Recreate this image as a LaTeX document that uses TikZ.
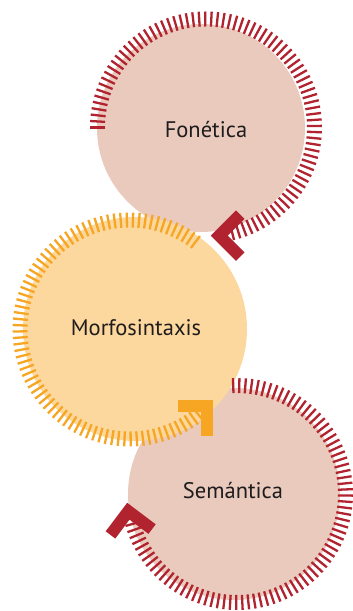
\documentclass[tikz,border=0pt]{standalone}
\usepackage{fontspec}
\setmainfont{PT Sans}
\usepackage{tikz}
\usetikzlibrary{calc}
\definecolor{roseFond}{RGB}{233,202,189}
\definecolor{orangeFond}{RGB}{253,216,158}
\definecolor{rougeTrait}{RGB}{176,35,47}
\definecolor{orangeTrait}{RGB}{246,166,35}
\definecolor{texteGris}{RGB}{30,28,28}
\tikzset{chevron/.pic={\draw[line width=12pt, line join=miter] (-21,21) -- (0,0) -- (-21,-21);}}

\begin{document}
\begin{tikzpicture}[x=1pt, y=1pt,
  etiquette/.style={font=\fontsize{22.5}{27}\selectfont, text=texteGris},
  trait/.style={line width=2.3pt}]

\useasboundingbox (0,0) rectangle (353,611);

% centres des anneaux
\coordinate (F) at (206,483.5);
\coordinate (M) at (129.5,281.5);
\coordinate (S) at (237,117);

\fill[roseFond] (201,483) circle (104);
\fill[roseFond] (234,117) circle (106);
\fill[orangeFond] (135,282) circle (112);

\node[etiquette] (fonetica) at (206,481) {Fonética};
\node[etiquette] (morfo) at (136,283) {Morfosintaxis};
\node[etiquette] (semantica) at (233,120) {Semántica};

\foreach \a in {180,176.8,...,-78}
  \draw[trait, rougeTrait] ([shift={(\a:101)}]F) -- ([shift={(\a:116)}]F);
\foreach \a in {53,56.2,...,309}
  \draw[trait, orangeTrait] ([shift={(\a:102)}]M) -- ([shift={(\a:117)}]M);
\foreach \a in {92,88.8,...,-166}
  \draw[trait, rougeTrait] ([shift={(\a:101)}]S) -- ([shift={(\a:116)}]S);

\pic[rougeTrait, rotate=180] at ($(F)+(-83:109)$) {chevron};
\pic[orangeTrait, rotate=45] at ($(M)+(-44.5:109)$) {chevron};
\pic[rougeTrait, rotate=98] at ($(S)+(-171:110)$) {chevron};

\end{tikzpicture}
\end{document}
